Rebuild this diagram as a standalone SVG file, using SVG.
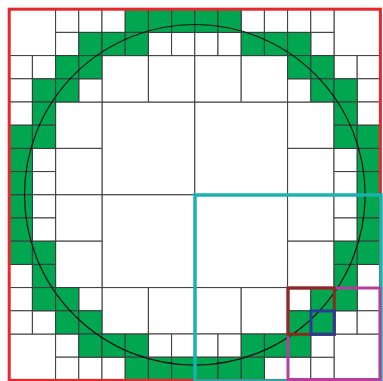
<svg xmlns="http://www.w3.org/2000/svg" width="383" height="381" viewBox="0 0 383 381">
<style>
.c rect{stroke:#3a3a3a;stroke-width:1;vector-effect:non-scaling-stroke;fill:#fff}
.c rect.g{fill:#00a650}
.hl{fill:none}
</style>
<rect x="0" y="0" width="383" height="381" fill="#fff"/>
<g id="cells" class="c" transform="translate(9.2 9.2) scale(23.2)">
<g id="big">
<rect x="4" y="4" width="4" height="4"/><rect x="8" y="4" width="4" height="4"/>
<rect x="4" y="8" width="4" height="4"/><rect x="8" y="8" width="4" height="4"/>
</g>
<g id="medium">
<rect x="0" y="0" width="2" height="2"/><rect x="14" y="0" width="2" height="2"/>
<rect x="4" y="2" width="2" height="2"/><rect x="6" y="2" width="2" height="2"/>
<rect x="8" y="2" width="2" height="2"/><rect x="10" y="2" width="2" height="2"/>
<rect x="2" y="4" width="2" height="2"/><rect x="2" y="6" width="2" height="2"/>
<rect x="2" y="8" width="2" height="2"/><rect x="2" y="10" width="2" height="2"/>
<rect x="12" y="4" width="2" height="2"/><rect x="12" y="6" width="2" height="2"/>
<rect x="12" y="8" width="2" height="2"/><rect x="12" y="10" width="2" height="2"/>
<rect x="4" y="12" width="2" height="2"/><rect x="6" y="12" width="2" height="2"/>
<rect x="8" y="12" width="2" height="2"/><rect x="10" y="12" width="2" height="2"/>
<rect x="0" y="14" width="2" height="2"/><rect x="14" y="14" width="2" height="2"/>
</g>
<g id="small-white">
<rect x="2" y="0" width="1" height="1"/><rect x="3" y="0" width="1" height="1"/><rect x="2" y="1" width="1" height="1"/>
<rect x="4" y="0" width="1" height="1"/><rect x="6" y="1" width="1" height="1"/><rect x="7" y="1" width="1" height="1"/>
<rect x="8" y="1" width="1" height="1"/><rect x="9" y="1" width="1" height="1"/><rect x="10" y="0" width="1" height="1"/>
<rect x="11" y="0" width="1" height="1"/><rect x="12" y="0" width="1" height="1"/><rect x="13" y="0" width="1" height="1"/>
<rect x="13" y="1" width="1" height="1"/><rect x="0" y="2" width="1" height="1"/><rect x="1" y="2" width="1" height="1"/>
<rect x="0" y="3" width="1" height="1"/><rect x="3" y="3" width="1" height="1"/><rect x="12" y="3" width="1" height="1"/>
<rect x="14" y="2" width="1" height="1"/><rect x="15" y="2" width="1" height="1"/><rect x="15" y="3" width="1" height="1"/>
<rect x="0" y="4" width="1" height="1"/><rect x="15" y="4" width="1" height="1"/><rect x="1" y="6" width="1" height="1"/>
<rect x="1" y="7" width="1" height="1"/><rect x="14" y="6" width="1" height="1"/><rect x="14" y="7" width="1" height="1"/>
<rect x="1" y="8" width="1" height="1"/><rect x="1" y="9" width="1" height="1"/><rect x="14" y="8" width="1" height="1"/>
<rect x="14" y="9" width="1" height="1"/><rect x="0" y="11" width="1" height="1"/><rect x="15" y="11" width="1" height="1"/>
<rect x="0" y="12" width="1" height="1"/><rect x="0" y="13" width="1" height="1"/><rect x="1" y="13" width="1" height="1"/>
<rect x="3" y="12" width="1" height="1"/><rect x="12" y="12" width="1" height="1"/><rect x="15" y="12" width="1" height="1"/>
<rect x="14" y="13" width="1" height="1"/><rect x="15" y="13" width="1" height="1"/><rect x="2" y="14" width="1" height="1"/>
<rect x="2" y="15" width="1" height="1"/><rect x="3" y="15" width="1" height="1"/><rect x="4" y="15" width="1" height="1"/>
<rect x="6" y="14" width="1" height="1"/><rect x="7" y="14" width="1" height="1"/><rect x="8" y="14" width="1" height="1"/>
<rect x="9" y="14" width="1" height="1"/><rect x="11" y="15" width="1" height="1"/><rect x="12" y="15" width="1" height="1"/>
<rect x="13" y="15" width="1" height="1"/><rect x="13" y="14" width="1" height="1"/>
</g>
<g id="small-green">
<rect class="g" x="3" y="1" width="1" height="1"/><rect class="g" x="5" y="0" width="1" height="1"/><rect class="g" x="4" y="1" width="1" height="1"/>
<rect class="g" x="5" y="1" width="1" height="1"/><rect class="g" x="6" y="0" width="1" height="1"/><rect class="g" x="7" y="0" width="1" height="1"/>
<rect class="g" x="8" y="0" width="1" height="1"/><rect class="g" x="9" y="0" width="1" height="1"/><rect class="g" x="10" y="1" width="1" height="1"/>
<rect class="g" x="11" y="1" width="1" height="1"/><rect class="g" x="12" y="1" width="1" height="1"/><rect class="g" x="1" y="3" width="1" height="1"/>
<rect class="g" x="2" y="2" width="1" height="1"/><rect class="g" x="3" y="2" width="1" height="1"/><rect class="g" x="2" y="3" width="1" height="1"/>
<rect class="g" x="12" y="2" width="1" height="1"/><rect class="g" x="13" y="2" width="1" height="1"/><rect class="g" x="13" y="3" width="1" height="1"/>
<rect class="g" x="14" y="3" width="1" height="1"/><rect class="g" x="1" y="4" width="1" height="1"/><rect class="g" x="0" y="5" width="1" height="1"/>
<rect class="g" x="1" y="5" width="1" height="1"/><rect class="g" x="14" y="4" width="1" height="1"/><rect class="g" x="14" y="5" width="1" height="1"/>
<rect class="g" x="15" y="5" width="1" height="1"/><rect class="g" x="0" y="6" width="1" height="1"/><rect class="g" x="0" y="7" width="1" height="1"/>
<rect class="g" x="15" y="6" width="1" height="1"/><rect class="g" x="15" y="7" width="1" height="1"/><rect class="g" x="0" y="8" width="1" height="1"/>
<rect class="g" x="0" y="9" width="1" height="1"/><rect class="g" x="15" y="8" width="1" height="1"/><rect class="g" x="15" y="9" width="1" height="1"/>
<rect class="g" x="0" y="10" width="1" height="1"/><rect class="g" x="1" y="10" width="1" height="1"/><rect class="g" x="1" y="11" width="1" height="1"/>
<rect class="g" x="14" y="10" width="1" height="1"/><rect class="g" x="15" y="10" width="1" height="1"/><rect class="g" x="14" y="11" width="1" height="1"/>
<rect class="g" x="1" y="12" width="1" height="1"/><rect class="g" x="2" y="12" width="1" height="1"/><rect class="g" x="2" y="13" width="1" height="1"/>
<rect class="g" x="3" y="13" width="1" height="1"/><rect class="g" x="13" y="12" width="1" height="1"/><rect class="g" x="12" y="13" width="1" height="1"/>
<rect class="g" x="13" y="13" width="1" height="1"/><rect class="g" x="14" y="12" width="1" height="1"/><rect class="g" x="3" y="14" width="1" height="1"/>
<rect class="g" x="4" y="14" width="1" height="1"/><rect class="g" x="5" y="14" width="1" height="1"/><rect class="g" x="5" y="15" width="1" height="1"/>
<rect class="g" x="6" y="15" width="1" height="1"/><rect class="g" x="7" y="15" width="1" height="1"/><rect class="g" x="8" y="15" width="1" height="1"/>
<rect class="g" x="9" y="15" width="1" height="1"/><rect class="g" x="10" y="14" width="1" height="1"/><rect class="g" x="11" y="14" width="1" height="1"/>
<rect class="g" x="10" y="15" width="1" height="1"/><rect class="g" x="12" y="14" width="1" height="1"/>
</g>
</g>
<g id="circle">
<circle cx="194.8" cy="194.8" r="170.3" fill="none" stroke="#111" stroke-width="1.2"/>
</g>
<g id="highlights" class="hl">
<rect id="red-root" x="9.2" y="9.2" width="371.2" height="371.2" fill="none" stroke="#e8262b" stroke-width="3"/>
<rect id="cyan-quadrant" x="195" y="195" width="186" height="186" fill="none" stroke="#19b2ae" stroke-width="3.5"/>
<rect id="magenta-quadrant" x="288" y="288" width="92" height="91.5" fill="none" stroke="#b43f9d" stroke-width="3"/>
<rect id="brown-quadrant" x="288" y="288" width="46.3" height="46.3" fill="none" stroke="#8c2a1c" stroke-width="3"/>
<rect id="blue-cell" x="311" y="311" width="23.3" height="23.3" fill="none" stroke="#2e3a91" stroke-width="3"/>
</g>
</svg>
